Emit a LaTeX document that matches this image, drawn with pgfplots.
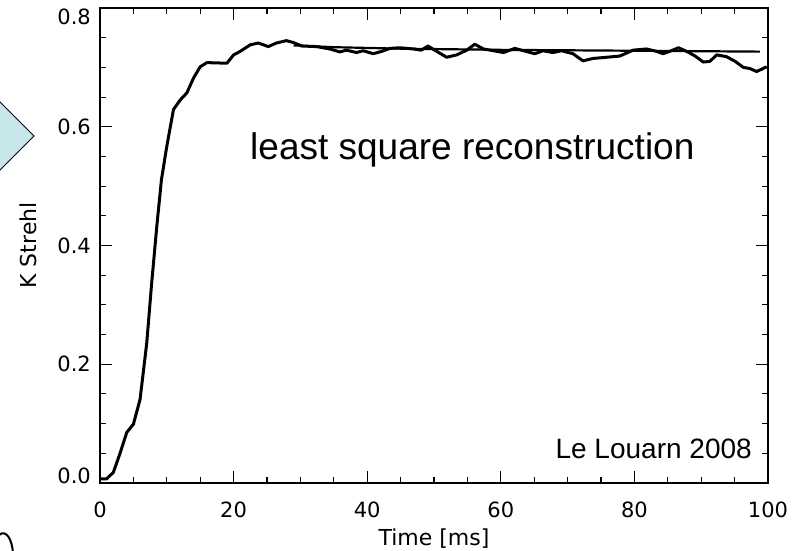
\documentclass[border=0pt]{standalone}
\usepackage{pgfplots}
\pgfplotsset{compat=1.18}
\usepackage{fontspec}
\setmainfont{DejaVu Sans}
\newfontfamily\arialfont{Liberation Sans}
\definecolor{diamondfill}{HTML}{C6E6EA}
\begin{document}
\begin{tikzpicture}[x=1pt,y=1pt]
\useasboundingbox (-100,-68) rectangle (701,483);
\filldraw[fill=diamondfill,draw=black,line width=1pt] (-66,347) -- (-136,417) -- (-206,347) -- (-136,277) -- cycle;
\draw[line width=2pt] (-101,-52) .. controls (-94,-46) and (-88,-56) .. (-87,-70);
\begin{axis}[
  at={(0,0)}, anchor=south west, scale only axis,
  width=668pt, height=475pt,
  xmin=0, xmax=100, ymin=0, ymax=0.8,
  xtick={0,20,40,60,80,100},
  xticklabels={0,20,40,60,80,100},
  ytick={0,0.2,0.4,0.6,0.8},
  yticklabels={\raisebox{-0.5pt}[0pt][0pt]{0.0},0.2,0.4,0.6,\raisebox{-17pt}[0pt][0pt]{0.8}},
  minor tick num=3,
  tick align=inside,
  major tick length=12pt, minor tick length=6pt,
  every tick/.style={black, line width=1.1pt},
  axis line style={line width=1.3pt},
  tick label style={font=\fontsize{21}{25}\selectfont, inner sep=0pt},
  xticklabel style={yshift=-19pt},
  yticklabel style={xshift=-9pt},
  clip=false,
]
\addplot[black, line width=3pt, line join=round] coordinates {
(0,0.0067) (1,0.007) (2,0.018) (3,0.05) (4,0.085) (5,0.099) (6,0.141) (7,0.236)
(7.7,0.332) (8.5,0.432) (9.2,0.511) (10,0.567) (11,0.629) (12,0.645) (13,0.657)
(14,0.682) (15,0.701) (16,0.708) (19,0.707) (20,0.721) (21,0.727) (22.5,0.738)
(23.7,0.741) (25.2,0.735) (26.4,0.741) (27.9,0.745) (28.9,0.742) (30.2,0.736)
(32.4,0.735) (34.4,0.731) (35.9,0.726) (36.9,0.729) (38.4,0.725) (39.4,0.728)
(40.9,0.723) (42.2,0.727) (43.4,0.732) (44.9,0.733) (46.9,0.731) (48.1,0.729)
(49.1,0.736) (50.1,0.729) (51.9,0.717) (53.4,0.721) (54.9,0.729) (56.1,0.739)
(57.4,0.731) (60.4,0.725) (62.1,0.732) (63.4,0.728) (65.1,0.723) (66.3,0.728)
(67.8,0.725) (69.1,0.728) (70.8,0.723) (72.3,0.711) (73.8,0.715) (75.8,0.717)
(77.8,0.719) (79.8,0.729) (81.8,0.731) (83.3,0.727) (84.3,0.723) (85.3,0.727)
(86.6,0.733) (87.8,0.727) (89.1,0.719) (90.3,0.709) (91.3,0.710) (92.3,0.721)
(93.8,0.718) (95.1,0.710) (96.3,0.700) (97.3,0.698) (98.3,0.693) (99.8,0.701)
};
\addplot[black, line width=2.2pt] coordinates {
(29,0.737) (35,0.734) (45,0.7315) (60,0.7295) (80,0.728) (98.8,0.7265)
};
\node[anchor=base west, font=\arialfont\fontsize{37}{40}\selectfont, inner sep=0pt] at (axis cs:22.46,0.5445) {least square reconstruction};
\node[anchor=base east, font=\arialfont\fontsize{28}{32}\selectfont, inner sep=0pt] at (axis cs:97.6,0.042) {Le Louarn 2008};
\end{axis}
\node[anchor=base, font=\fontsize{22}{26}\selectfont, inner sep=0pt] at (334,-63) {Time [ms]};
\node[rotate=90, anchor=base, font=\fontsize{22}{26}\selectfont, inner sep=0pt] at (-63,237.5) {K Strehl};
\end{tikzpicture}
\end{document}
